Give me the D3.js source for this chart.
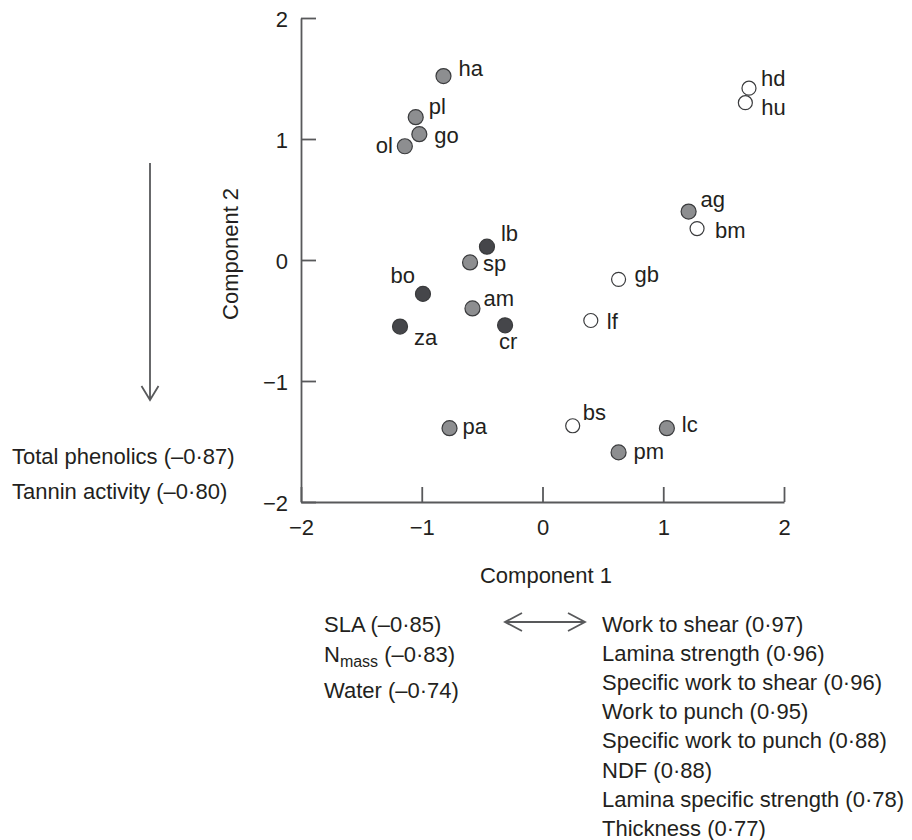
<!DOCTYPE html>
<html>
<head>
<meta charset="utf-8">
<script src="https://cdn.jsdelivr.net/npm/d3@7"></script>
<style>
  body { margin: 0; background: #fff; }
  text { font-family: "Liberation Sans", Arial, sans-serif; fill: #231f20; }
</style>
</head>
<body>
<script>
// species codes and their scores on the two components
var codes = ["ha", "pl", "go", "ol", "lb", "sp", "bo", "am", "za", "cr",
             "gb", "lf", "pa", "bs", "lc", "pm", "ag", "bm", "hd", "hu"];
var comp1 = [-0.82, -1.05, -1.02, -1.14, -0.46, -0.60, -0.99, -0.58, -1.18, -0.31,
              0.63, 0.40, -0.77, 0.25, 1.03, 0.63, 1.21, 1.28, 1.71, 1.68];
var comp2 = [1.52, 1.18, 1.04, 0.94, 0.11, -0.02, -0.28, -0.40, -0.55, -0.54,
             -0.16, -0.50, -1.39, -1.37, -1.39, -1.59, 0.40, 0.26, 1.42, 1.30];
var group = ["grey", "grey", "grey", "grey", "dark", "grey", "dark", "grey", "dark", "dark",
             "open", "open", "grey", "open", "grey", "grey", "grey", "open", "open", "open"];

var ticks = [-2, -1, 0, 1, 2];

// loadings text
var comp2Neg = ["Total phenolics (\u20130\u00b787)", "Tannin activity (\u20130\u00b780)"];
var comp1Neg = ["SLA (\u20130\u00b785)", "N|mass| (\u20130\u00b783)", "Water (\u20130\u00b774)"];
var comp1Pos = ["Work to shear (0\u00b797)", "Lamina strength (0\u00b796)",
                "Specific work to shear (0\u00b796)", "Work to punch (0\u00b795)",
                "Specific work to punch (0\u00b788)", "NDF (0\u00b788)",
                "Lamina specific strength (0\u00b778)", "Thickness (0\u00b777)"];

// label offsets from the point centre [dx, dy, anchor]
var labelPos = {
  ha: [15, 0, "start"], pl: [13, -3, "start"], go: [15, 9, "start"], ol: [-12, 7, "end"],
  lb: [14, -6, "start"], sp: [13, 9, "start"], bo: [-8, -11, "end"], am: [11, -2, "start"],
  za: [14, 18, "start"], cr: [-6, 24, "start"], gb: [16, 3, "start"], lf: [16, 8, "start"],
  pa: [13, 6, "start"], bs: [10, -6, "start"], lc: [15, 4, "start"], pm: [15, 7, "start"],
  ag: [12, -5, "start"], bm: [18, 9, "start"], hd: [12, -2, "start"], hu: [16, 12, "start"]
};

var fills = { grey: "#8d8e90", dark: "#45464a", open: "#ffffff" };
var ink = "#58595b";

var width = 912, height = 840;

var svg = d3.select("body").append("svg")
  .attr("width", width)
  .attr("height", height);

var x = d3.scaleLinear().domain([-2, 2]).range([301, 784]);
var y = d3.scaleLinear().domain([-2, 2]).range([502, 18]);

var fmt = function(d){ return d < 0 ? "\u2212" + Math.abs(d) : d; };

var xAxis = svg.append("g")
  .attr("transform", "translate(0," + y(-2) + ")")
  .call(d3.axisBottom(x).tickValues(ticks).tickSize(-15).tickSizeOuter(0)
        .tickPadding(17).tickFormat(fmt));

var yAxis = svg.append("g")
  .attr("transform", "translate(" + x(-2) + ",0)")
  .call(d3.axisLeft(y).tickValues(ticks).tickSize(-15).tickSizeOuter(0)
        .tickPadding(13).tickFormat(fmt));

svg.selectAll(".domain, .tick line")
  .attr("stroke", ink)
  .attr("stroke-width", 1.8);
svg.selectAll(".tick text")
  .attr("font-size", 22)
  .attr("font-family", "Liberation Sans, Arial, sans-serif")
  .attr("fill", "#231f20");
yAxis.selectAll(".tick text").attr("dy", "0.37em");

// axis titles
svg.append("text")
  .attr("x", 546).attr("y", 583)
  .attr("text-anchor", "middle")
  .attr("font-size", 22)
  .text("Component 1");

svg.append("text")
  .attr("transform", "translate(238," + y(0.05) + ") rotate(-90)")
  .attr("text-anchor", "middle")
  .attr("font-size", 22)
  .text("Component 2");

// points
var pts = codes.map(function(c, i){
  return { code: c, c1: comp1[i], c2: comp2[i], g: group[i] };
});

svg.selectAll("circle.pt")
  .data(pts)
  .enter()
  .append("circle")
  .attr("class", "pt")
  .attr("cx", function(d){ return x(d.c1); })
  .attr("cy", function(d){ return y(d.c2); })
  .attr("r", function(d){ return d.g == "open" ? 7 : 7.5; })
  .attr("fill", function(d){ return fills[d.g]; })
  .attr("stroke", "#3a3b3d")
  .attr("stroke-width", 1.2);

svg.selectAll("text.lab")
  .data(pts)
  .enter()
  .append("text")
  .attr("class", "lab")
  .attr("x", function(d){ return x(d.c1) + labelPos[d.code][0]; })
  .attr("y", function(d){ return y(d.c2) + labelPos[d.code][1]; })
  .attr("text-anchor", function(d){ return labelPos[d.code][2]; })
  .attr("font-size", 22)
  .text(function(d){ return d.code; });

// arrows
var arrows = svg.append("g")
  .attr("fill", "none")
  .attr("stroke", ink)
  .attr("stroke-width", 1.8);

arrows.append("path").attr("d", "M150,163 L150,400 M141.5,386 L150,400 L158.5,386");
arrows.append("path").attr("d", "M505,622 L585,622 M522,613 L505,622 L522,631 M568,613 L585,622 L568,631");

// component 2 loadings
svg.selectAll("text.c2neg")
  .data(comp2Neg)
  .enter()
  .append("text")
  .attr("class", "c2neg")
  .attr("x", 12)
  .attr("y", function(d, i){ return 464 + i * 35; })
  .attr("font-size", 22)
  .text(function(d){ return d; });

// component 1 negative loadings (with subscript)
var negY = [632, 662, 698];
comp1Neg.forEach(function(s, i){
  var parts = s.split("|");
  var t = svg.append("text")
    .attr("x", 324)
    .attr("y", negY[i])
    .attr("font-size", 22);
  if (parts.length == 3) {
    t.append("tspan").text(parts[0]);
    t.append("tspan").attr("font-size", 16).attr("dy", 5).text(parts[1]);
    t.append("tspan").attr("dy", -5).text(parts[2]);
  } else {
    t.text(s);
  }
});

// component 1 positive loadings
svg.selectAll("text.c1pos")
  .data(comp1Pos)
  .enter()
  .append("text")
  .attr("class", "c1pos")
  .attr("x", 602)
  .attr("y", function(d, i){ return 632 + i * 29.1; })
  .attr("font-size", 22)
  .text(function(d){ return d; });
</script>
</body>
</html>
